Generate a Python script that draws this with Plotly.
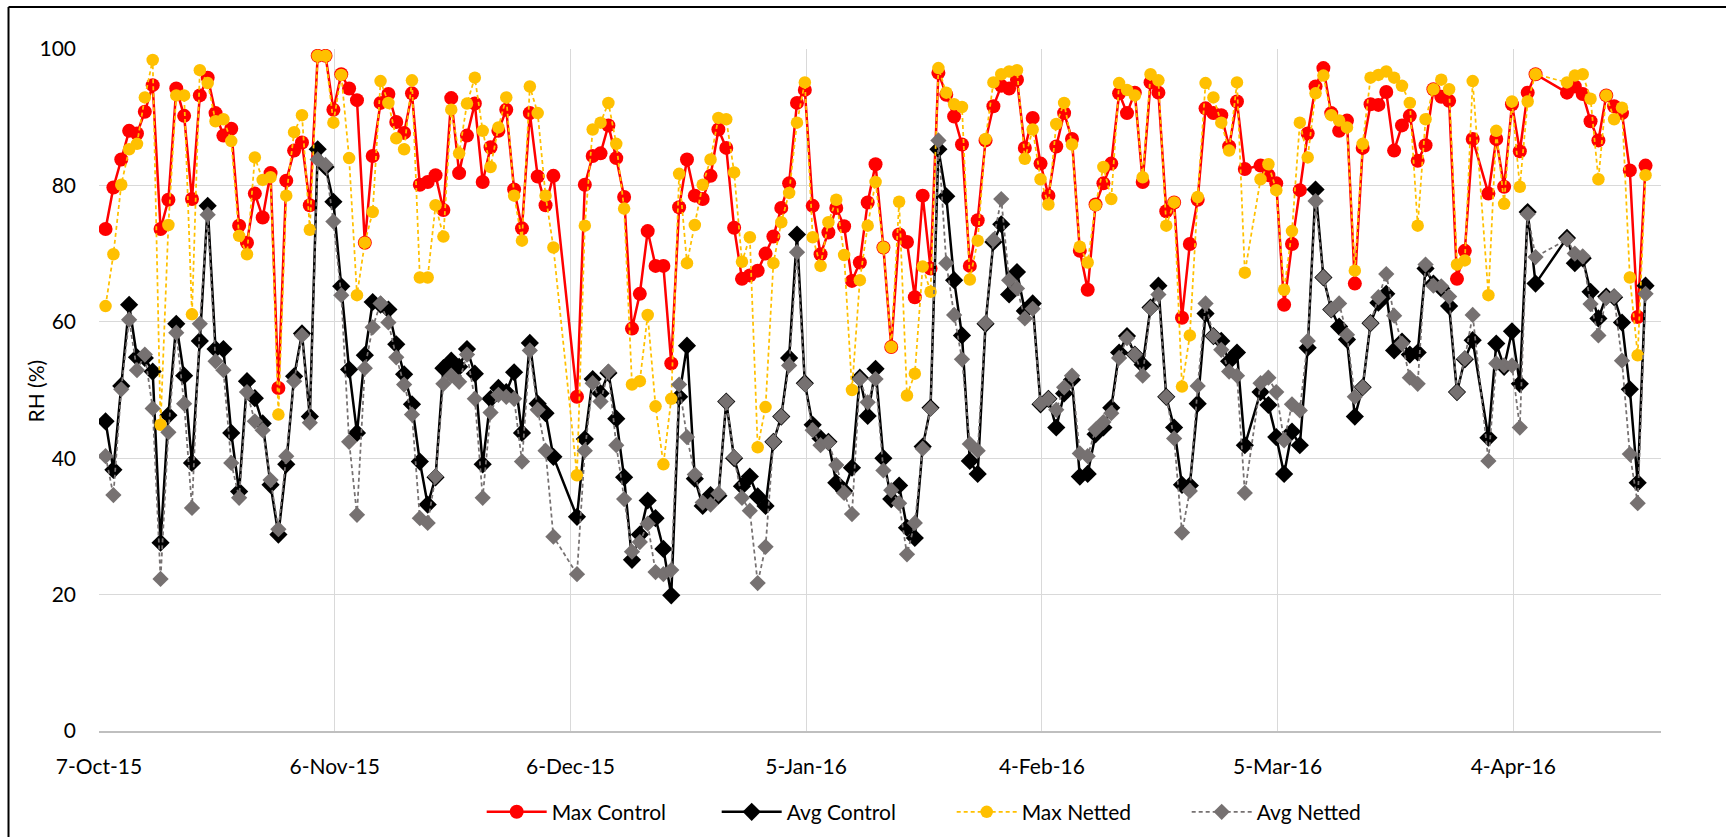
import pandas as pd
import plotly.graph_objects as go

# ---------------- data ----------------
start_date = "2015-10-07"
n_days = 197
missing_days = [58, 59, 146, 175, 183, 184, 185]   # days with no record

max_control = [
    73.6, 79.7, 83.8, 88.0, 87.6, 90.8, 94.7, 73.6, 77.9, 94.2,
    90.2, 78.0, 93.2, 95.8, 90.6, 87.3, 88.3, 74.1, 71.6, 78.8,
    75.3, 81.8, 50.3, 80.7, 85.1, 86.3, 77.1, 99.0, 99.0, 91.1,
    96.3, 94.2, 92.5, 71.6, 84.3, 92.1, 93.4, 89.3, 87.7, 93.5,
    80.1, 80.5, 81.5, 76.4, 92.8, 81.8, 87.3, 92.0, 80.5, 85.6,
    88.0, 91.1, 79.4, 73.7, 90.6, 81.3, 77.1, 81.4,
    49.0, 80.1, 84.3, 84.7, 88.8, 84.0, 78.3, 59.0, 64.1, 73.3,
    68.2, 68.2, 53.9, 76.8, 83.8, 78.5, 78.0, 81.4, 88.2, 85.5,
    73.8, 66.3, 66.8, 67.5, 70.0, 72.5, 76.7, 80.3, 92.1, 94.0,
    77.0, 69.9, 73.1, 76.7, 74.0, 66.0, 68.7, 77.5, 83.1, 70.9,
    56.3, 72.8, 71.7, 63.6, 78.5, 67.8, 96.5, 93.3, 90.1, 86.0,
    68.2, 74.9, 86.6, 91.6, 94.6, 94.2, 95.5, 85.5, 89.9, 83.2,
    78.5, 85.7, 90.6, 86.8, 70.4, 64.7, 77.2, 80.3, 83.2, 93.5,
    90.6, 93.6, 80.5, 95.1, 93.6, 76.2, 77.5, 60.6, 71.4, 77.9,
    91.3, 90.6, 90.3, 85.7, 92.3, 82.4,
    82.9, 81.5, 80.3, 62.5, 71.4, 79.3, 87.6, 94.5, 97.2, 90.6,
    88.0, 89.5, 65.6, 85.5, 91.9, 91.8, 93.7, 85.1, 88.8, 90.2,
    83.6, 85.9, 94.1, 93.0, 92.4, 66.3, 70.4, 86.8,
    78.8, 86.8, 79.8, 91.9, 85.0, 93.6, 96.3,
    93.6, 94.5, 93.4, 89.4, 86.6, 93.2, 91.6, 90.6, 82.2, 60.7, 82.9,
]

avg_control = [
    45.4, 38.3, 50.6, 62.5, 54.8, 54.7, 52.7, 27.6, 46.3, 59.7,
    52.1, 39.3, 57.2, 77.0, 56.0, 56.0, 43.7, 35.1, 51.3, 48.8,
    45.1, 36.1, 28.8, 39.1, 52.0, 58.3, 46.1, 85.3, 82.7, 77.6,
    65.2, 53.0, 43.7, 55.1, 62.9, 62.5, 61.8, 56.7, 52.3, 47.9,
    39.5, 33.2, 37.2, 53.2, 54.3, 53.4, 56.0, 52.4, 39.1, 48.7,
    50.3, 49.7, 52.6, 43.7, 56.9, 48.0, 46.6, 40.2,
    31.4, 42.8, 51.6, 49.5, 52.5, 45.8, 37.2, 25.1, 28.8, 33.8,
    31.2, 26.7, 19.9, 49.0, 56.5, 37.0, 33.0, 34.6, 34.5, 48.3,
    40.0, 35.9, 37.3, 34.4, 33.0, 42.4, 46.1, 54.7, 72.8, 51.0,
    44.9, 42.9, 42.4, 36.4, 35.2, 38.6, 51.8, 46.2, 53.1, 40.0,
    34.0, 36.0, 29.8, 28.3, 41.7, 47.4, 85.3, 78.4, 66.1, 58.0,
    39.6, 37.7, 59.7, 71.7, 74.3, 64.0, 67.3, 61.6, 62.7, 47.9,
    48.7, 44.5, 49.5, 51.5, 37.3, 37.7, 43.5, 44.5, 47.4, 55.5,
    57.9, 55.2, 53.7, 62.1, 65.3, 49.0, 44.5, 36.1, 36.0, 48.0,
    61.2, 57.9, 57.2, 54.2, 55.5, 41.9,
    49.7, 47.8, 43.1, 37.7, 43.9, 41.9, 56.2, 79.4, 66.5, 61.8,
    59.3, 57.4, 46.1, 50.4, 59.8, 62.8, 64.1, 55.8, 57.1, 55.2,
    55.5, 67.8, 65.6, 64.9, 62.3, 49.7, 54.5, 57.3,
    43.0, 56.8, 53.4, 58.6, 50.9, 76.1, 65.6,
    72.3, 68.6, 69.3, 64.4, 60.5, 63.7, 63.6, 59.9, 50.1, 36.4, 65.3,
]

max_netted = [
    62.3, 69.9, 80.1, 85.3, 86.1, 92.9, 98.4, 44.9, 74.2, 93.2,
    93.2, 61.1, 96.9, 95.0, 89.4, 89.7, 86.5, 72.6, 69.9, 84.1,
    80.8, 81.2, 46.4, 78.5, 87.8, 90.3, 73.5, 99.0, 99.0, 89.2,
    96.2, 84.0, 63.9, 71.6, 76.1, 95.3, 92.1, 86.9, 85.3, 95.4,
    66.5, 66.5, 77.1, 72.5, 91.1, 84.7, 92.0, 95.8, 88.0, 82.7,
    88.5, 92.9, 78.5, 71.9, 94.5, 90.6, 78.5, 70.9,
    37.5, 74.1, 88.2, 89.2, 92.1, 86.1, 76.6, 50.8, 51.3, 61.0,
    47.6, 39.1, 48.7, 81.7, 68.6, 74.2, 80.1, 83.8, 89.9, 89.7,
    81.9, 68.8, 72.4, 41.6, 47.5, 68.6, 74.6, 78.9, 89.2, 95.1,
    72.4, 68.2, 74.6, 77.9, 69.8, 50.0, 66.1, 74.1, 80.5, 70.9,
    56.3, 77.6, 49.2, 52.4, 68.1, 64.4, 97.2, 93.6, 91.9, 91.5,
    66.2, 71.9, 86.8, 95.1, 96.3, 96.7, 96.9, 83.9, 88.2, 80.9,
    77.2, 89.0, 92.1, 86.0, 71.0, 68.7, 77.1, 82.7, 78.0, 95.0,
    94.0, 93.2, 81.2, 96.3, 95.4, 74.1, 77.5, 50.5, 58.0, 78.3,
    95.0, 92.9, 89.2, 85.1, 95.1, 67.2,
    80.9, 83.1, 79.3, 64.7, 73.3, 89.2, 84.1, 93.5, 96.1, 90.3,
    89.5, 88.5, 67.5, 86.1, 95.8, 96.2, 96.7, 95.8, 94.6, 92.1,
    74.1, 89.7, 94.1, 95.5, 94.1, 68.4, 69.0, 95.3,
    63.9, 88.0, 77.3, 92.3, 79.8, 92.3, 96.3,
    95.1, 96.1, 96.3, 92.7, 80.9, 93.2, 89.7, 91.4, 66.5, 55.1, 81.5,
]

avg_netted = [
    40.3, 34.6, 50.1, 60.3, 52.9, 55.2, 47.3, 22.3, 43.8, 58.4,
    48.0, 32.7, 59.7, 75.7, 54.2, 52.9, 39.3, 34.2, 49.7, 45.4,
    44.1, 36.8, 29.6, 40.3, 51.3, 58.0, 45.2, 83.8, 83.0, 74.7,
    63.9, 42.4, 31.7, 53.2, 59.2, 62.7, 59.9, 54.8, 50.8, 46.4,
    31.2, 30.5, 37.3, 50.9, 52.1, 51.2, 55.2, 48.7, 34.2, 46.7,
    49.3, 49.0, 48.7, 39.5, 55.8, 47.1, 41.1, 28.5,
    23.0, 41.1, 51.0, 48.3, 52.7, 41.9, 34.0, 26.3, 27.7, 30.4,
    23.3, 23.0, 23.6, 50.8, 43.1, 37.6, 33.5, 33.2, 34.8, 48.3,
    40.1, 34.2, 32.3, 21.7, 27.0, 42.4, 46.1, 53.6, 70.2, 50.9,
    44.1, 41.9, 42.3, 39.0, 34.9, 31.8, 51.6, 48.2, 51.6, 38.2,
    35.3, 33.4, 25.9, 30.5, 41.4, 47.3, 86.6, 68.6, 61.0, 54.5,
    42.1, 41.1, 59.8, 72.0, 78.0, 66.1, 64.9, 60.5, 61.9, 48.0,
    48.7, 47.1, 50.4, 52.1, 40.7, 40.3, 44.2, 45.3, 46.6, 54.7,
    57.6, 55.2, 52.1, 62.0, 64.0, 49.0, 42.9, 29.1, 35.2, 50.6,
    62.7, 57.9, 55.9, 52.7, 52.1, 34.9,
    51.0, 51.8, 49.7, 42.6, 47.9, 47.0, 57.2, 77.7, 66.5, 61.8,
    62.7, 58.1, 49.0, 50.4, 59.8, 63.6, 67.0, 60.9, 56.8, 51.8,
    50.9, 68.4, 65.3, 65.2, 63.7, 49.7, 54.6, 61.0,
    39.6, 53.9, 53.6, 53.6, 44.5, 75.8, 69.5,
    72.1, 70.0, 69.6, 62.6, 58.0, 63.5, 63.7, 54.3, 40.6, 33.4, 64.1,
]

tick_dates = ["2015-10-07", "2015-11-06", "2015-12-06", "2016-01-05",
              "2016-02-04", "2016-03-05", "2016-04-04"]
tick_labels = ["7-Oct-15", "6-Nov-15", "6-Dec-15", "5-Jan-16",
               "4-Feb-16", "5-Mar-16", "4-Apr-16"]
y_ticks = [0, 20, 40, 60, 80, 100]

# ---------------- dates ----------------
all_days = pd.date_range(start_date, periods=n_days, freq="D")
dates = [d for i, d in enumerate(all_days) if i not in missing_days]
# points sit inside their day slot on the date axis
xs = [d + pd.Timedelta(hours=20) for d in dates]
assert len(xs) == len(max_control) == len(avg_control) == len(max_netted) == len(avg_netted)

FONT = "Lato, 'Open Sans', sans-serif"

fig = go.Figure()
fig.add_trace(go.Scatter(
    x=xs, y=max_control, name="Max Control", mode="lines+markers",
    line=dict(color="#FF0000", width=2.5),
    marker=dict(symbol="circle", size=14, color="#FF0000"),
))
fig.add_trace(go.Scatter(
    x=xs, y=avg_control, name="Avg Control", mode="lines+markers",
    line=dict(color="#000000", width=2.5),
    marker=dict(symbol="diamond", size=14, color="#000000"),
))
fig.add_trace(go.Scatter(
    x=xs, y=max_netted, name="Max Netted", mode="lines+markers",
    line=dict(color="#FFC000", width=1.75, dash="4px,3px"),
    marker=dict(symbol="circle", size=12.5, color="#FFC000"),
))
fig.add_trace(go.Scatter(
    x=xs, y=avg_netted, name="Avg Netted", mode="lines+markers",
    line=dict(color="#767171", width=1.75, dash="4px,3px"),
    marker=dict(symbol="diamond", size=12.5, color="#767171"),
))

x_start = pd.Timestamp(start_date)
x_end = x_start + pd.Timedelta(days=198.8)

fig.update_layout(
    width=1726, height=837,
    margin=dict(l=98.5, r=65.3, t=49, b=106, autoexpand=False),
    paper_bgcolor="white", plot_bgcolor="white",
    font=dict(family=FONT, size=21, color="#000000"),
    showlegend=True,
    legend=dict(
        orientation="h", x=0.245, xanchor="left", y=-0.119, yanchor="middle",
        font=dict(family=FONT, size=21, color="#000000"),
        entrywidth=160, entrywidthmode="pixels",
        bgcolor="rgba(0,0,0,0)", itemwidth=60,
    ),
    xaxis=dict(
        type="date", range=[x_start, x_end], automargin=False,
        tickmode="array", tickvals=tick_dates, ticktext=tick_labels,
        showgrid=True, gridcolor="#d9d9d9", gridwidth=1,
        showline=True, linecolor="#bfbfbf", linewidth=1.5,
        ticks="", ticklabelstandoff=16,
        tickfont=dict(family=FONT, size=21, color="#000000"),
        zeroline=False,
    ),
    yaxis=dict(
        range=[0, 100], tickmode="array", tickvals=y_ticks, automargin=False,
        showgrid=True, gridcolor="#d9d9d9", gridwidth=1,
        showline=False, zeroline=False, ticks="",
        ticklabelstandoff=22,
        tickfont=dict(family=FONT, size=21, color="#000000"),
    ),
    annotations=[dict(
        text="RH (%)", xref="paper", yref="paper",
        x=(35 - 98.5) / 1562.2, y=0.4985, textangle=-90,
        showarrow=False, xanchor="center", yanchor="middle",
        font=dict(family=FONT, size=21, color="#000000"),
    )],
    shapes=[
        dict(type="line", xref="paper", yref="paper",
             x0=(8 - 98.5) / 1562.2, x1=1.2, y0=(731 - 7) / 682, y1=(731 - 7) / 682,
             line=dict(color="#000000", width=2)),
        dict(type="line", xref="paper", yref="paper",
             x0=(8 - 98.5) / 1562.2, x1=(8 - 98.5) / 1562.2,
             y0=(731 - 7) / 682, y1=(731 - 840) / 682,
             line=dict(color="#000000", width=2)),
    ],
)

fig.write_html("out.html")
